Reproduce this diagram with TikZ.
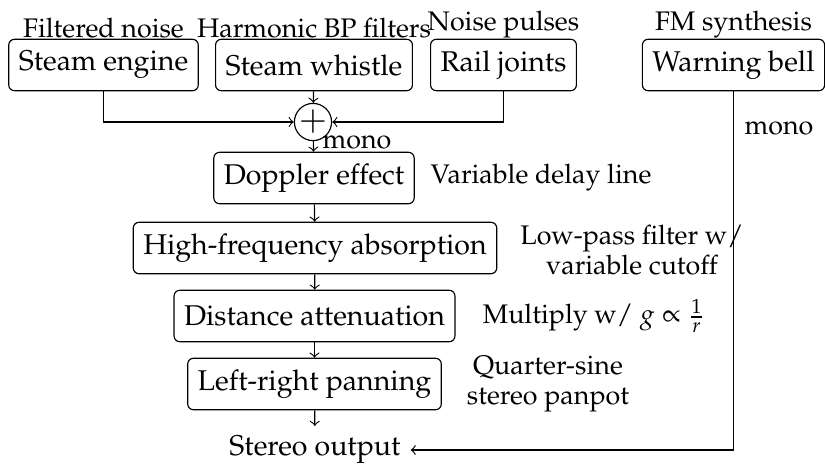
\documentclass[tikz,border=0pt]{standalone}
\usepackage[T1]{fontenc}
\usepackage{mathpazo}
\usepackage{amsmath}
\usepackage{amssymb}

\begin{document}
\begin{tikzpicture}[%
        x = 0.35pt, y = -0.35pt,
        block/.style = {draw, rounded corners=2pt, minimum height=18pt, inner xsep=3.5pt},
        srcname/.style = {inner sep=0pt, anchor=south, font=\fontsize{9.4pt}{10.5pt}\selectfont},
        note/.style = {align=center, font=\fontsize{9.4pt}{10.5pt}\selectfont},
        sumnode/.style = {draw, circle, inner sep=0pt, minimum size=9.8pt}
    ]
      \useasboundingbox (0,0) rectangle (825,463);
      \node[block] (engine) at (103.5,65) {Steam engine};
      \node[block] (whistle) at (314,65) {Steam whistle};
      \node[block] (rail) at (503.5,65) {Rail joints};
      \node[block] (bell) at (733.5,65) {Warning bell};
      \node[srcname] (enginelbl) at (engine.north) {Filtered noise};
      \node[srcname] (whistlelbl) at (whistle.north) {Harmonic BP filters};
      \node[srcname] (raillbl) at (rail.north) {Noise pulses};
      \node[srcname] (belllbl) at (bell.north) {FM synthesis};
      \node[sumnode] (sum) at (313,122) {\large$+$};
      \node[block] (doppler) at (314,178) {Doppler effect};
      \node[block] (hf) at (315,248) {High-frequency absorption};
      \node[block] (dist) at (314.5,316) {Distance attenuation};
      \node[block] (pan) at (314.5,384) {Left-right panning};
      \node (out) at (315,450) {Stereo output};
      \node[note] (dopplernote) at (541,178) {Variable delay line};
      \node[note] (hfnote) at (632,250) {Low-pass filter w/\\variable cutoff};
      \node[note] (distnote) at (594,316) {Multiply w/ $g \propto \frac{1}{r}$};
      \node[note] (pannote) at (548,384) {Quarter-sine\\stereo panpot};
      \node[note] (mono) at (357,142) {mono};
      \node[note] (bellmono) at (779,128) {mono};
      \draw[->] (engine) |- (sum);
      \draw[->] (whistle) -- (sum);
      \draw[->] (rail) |- (sum);
      \draw[->] (sum) -- (doppler);
      \draw[->] (doppler) -- (hf);
      \draw[->] (hf) -- (dist);
      \draw[->] (dist) -- (pan);
      \draw[->] (pan) -- (out);
      \draw[->] (bell) |- (out);
    \end{tikzpicture}
\end{document}
